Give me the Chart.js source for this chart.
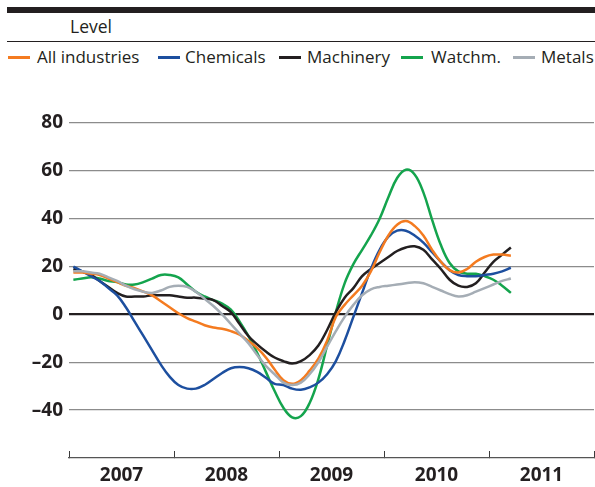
<!DOCTYPE html>
<html>
<head>
<meta charset="utf-8">
<script src="https://cdn.jsdelivr.net/npm/chart.js@4/dist/chart.umd.min.js"></script>
<style>
  html, body { margin: 0; padding: 0; background: #fff; }
  #wrap { position: relative; width: 595px; height: 487px; overflow: hidden; font-family: "Open Sans", sans-serif; color: #231f20; }
  #topbar { position: absolute; left: 7px; top: 7px; width: 588px; height: 6px; background: #231f20; }
  #rule { position: absolute; left: 7px; top: 41px; width: 588px; height: 1px; background: #231f20; }
  #level { position: absolute; left: 70px; top: 17px; font-size: 17.5px; line-height: 18px; white-space: nowrap; }
  .lg { position: absolute; top: 48px; font-size: 17px; line-height: 18px; white-space: nowrap; }
  .sw { position: absolute; top: 56px; height: 3px; }
  #cv { position: absolute; left: 0; top: 0; }
</style>
</head>
<body>
<div id="wrap">
  <div id="topbar"></div>
  <div id="level">Level</div>
  <div id="rule"></div>
  <div id="legend"></div>
  <canvas id="cv" width="595" height="487"></canvas>
</div>
<script>
// ---- data (monthly, Jan 2007 – Mar 2011) ----
const years = ['2007', '2008', '2009', '2010', '2011'];
const seriesNames = ['All industries', 'Chemicals', 'Machinery', 'Watchm.', 'Metals'];
const seriesColors = ['#f47b20', '#1d4f9f', '#231f20', '#14a44d', '#a5adb5'];

const allIndustries = [17.5, 17.5, 17, 16.5, 15, 13.5, 12, 11, 9.5, 8, 5.5, 3,
  0.5, -1.5, -3, -4.5, -5.5, -6, -7, -8.5, -11, -14, -18, -23,
  -27.5, -29, -27.5, -23.5, -18.5, -11, -1, 4, 8, 12, 18, 26,
  33, 37.5, 39, 37, 33, 27, 22, 18.5, 17.5, 19, 22, 24,
  25, 25, 24.5];
const chemicals = [20, 18, 16, 14, 11, 8, 3, -3, -9, -15, -21, -26,
  -29.5, -31, -31, -29.5, -27, -24.5, -22.5, -22, -22.5, -24, -26.5, -29,
  -29.5, -31, -31.5, -30.5, -28.5, -25, -19.5, -11, -1, 9, 19, 27,
  32.5, 35, 35, 33, 30, 26, 22, 18.5, 16.5, 16, 16, 16.5,
  17, 18, 19.5];
const machinery = [19, 18, 16.5, 14, 11.5, 9, 7.5, 7.5, 7.5, 8, 8, 8,
  7.5, 7, 7, 6.5, 6, 3.5, 1, -4, -9, -12.5, -15.5, -18,
  -19.5, -20.5, -19.5, -17, -13, -6.5, 1, 7, 11, 16, 19, 21.5,
  24, 26.5, 28, 28.5, 27, 23, 19, 14.5, 12, 11.5, 13, 17.5,
  22, 25, 28];
const watchmaking = [14.5, 15, 15.5, 15, 14, 13.5, 12.5, 12.5, 13.5, 15, 16.5, 16.5,
  15.5, 12.5, 9.5, 7.5, 6, 4.5, 2, -3, -9, -16, -24, -32,
  -39, -43, -42.5, -37, -27, -13, 1, 13, 21, 27, 33, 40,
  49, 57, 60.5, 58.5, 51, 39.5, 29, 21.5, 18, 17, 17, 16,
  14.5, 12, 9];
const metals = [18, 18, 17.5, 17, 15.5, 14, 12, 10.5, 9.5, 9, 10, 11.5,
  12, 11.5, 9.5, 6.5, 3.5, 0, -4, -8, -12, -17, -21.5, -25,
  -28.5, -29.5, -28.5, -25, -20, -13.5, -7, -1, 4, 8, 10.5, 11.5,
  12, 12.5, 13, 13.5, 13, 11.5, 10, 8.5, 7.5, 8, 9.5, 11,
  12.5, 14, 15];
const seriesValues = [allIndustries, chemicals, machinery, watchmaking, metals];

// ---- legend (HTML) ----
const legendSwatchX = [8, 158, 279, 401, 513];
const legendTextX = [37, 185, 307, 431, 541];
const legendEl = document.getElementById('legend');
seriesNames.forEach((name, k) => {
  const sw = document.createElement('div');
  sw.className = 'sw';
  sw.style.left = legendSwatchX[k] + 'px';
  sw.style.width = '22px';
  sw.style.background = seriesColors[k];
  legendEl.appendChild(sw);
  const t = document.createElement('div');
  t.className = 'lg';
  t.style.left = legendTextX[k] + 'px';
  t.textContent = name;
  legendEl.appendChild(t);
});

// ---- chart ----
const datasets = seriesValues.map((vals, k) => ({
  label: seriesNames[k],
  data: vals.map((v, i) => ({ x: i + 0.5, y: v })),
  borderColor: seriesColors[k],
  backgroundColor: seriesColors[k],
  borderWidth: 2.5,
  pointRadius: 0,
  tension: 0.4,
  fill: false
}));
const ordered = [datasets[4], datasets[0], datasets[1], datasets[2], datasets[3]];

new Chart(document.getElementById('cv'), {
  type: 'line',
  data: { datasets: ordered },
  options: {
    responsive: false,
    animation: false,
    events: [],
    layout: { padding: { top: 123, left: 0, right: 1, bottom: 0 } },
    plugins: { legend: { display: false }, tooltip: { enabled: false } },
    scales: {
      x: {
        type: 'linear',
        min: 0, max: 60,
        afterFit: s => { s.height = 29; s.paddingRight = 0; s.paddingLeft = 0; },
        grid: {
          drawOnChartArea: false,
          drawTicks: true,
          tickLength: -7,
          lineWidth: 1,
          color: ctx => (ctx.tick && ctx.tick.value % 12 === 0) ? '#3a3a3a' : 'rgba(0,0,0,0)'
        },
        border: { display: true, color: '#555', width: 1.2 },
        ticks: {
          stepSize: 6,
          autoSkip: false,
          maxRotation: 0,
          padding: 13,
          color: '#231f20',
          font: { family: 'Open Sans', size: 19, weight: 'bold' },
          callback: v => (v % 12 === 6) ? years[(v - 6) / 12] : ''
        }
      },
      y: {
        min: -60, max: 80,
        afterFit: s => { s.width = 69; },
        grid: {
          drawTicks: false,
          color: ctx => {
            const v = ctx.tick ? ctx.tick.value : null;
            if (v === -60) return 'rgba(0,0,0,0)';
            return v === 0 ? '#231f20' : '#8c8c8c';
          },
          lineWidth: ctx => (ctx.tick && ctx.tick.value === 0) ? 2.2 : 1.3
        },
        border: { display: false },
        ticks: {
          stepSize: 20,
          padding: 6,
          color: '#231f20',
          font: { family: 'Open Sans', size: 19, weight: 'bold' },
          callback: v => v === -60 ? '' : (v < 0 ? '–' + Math.abs(v) : String(v))
        }
      }
    }
  }
});
</script>
</body>
</html>
